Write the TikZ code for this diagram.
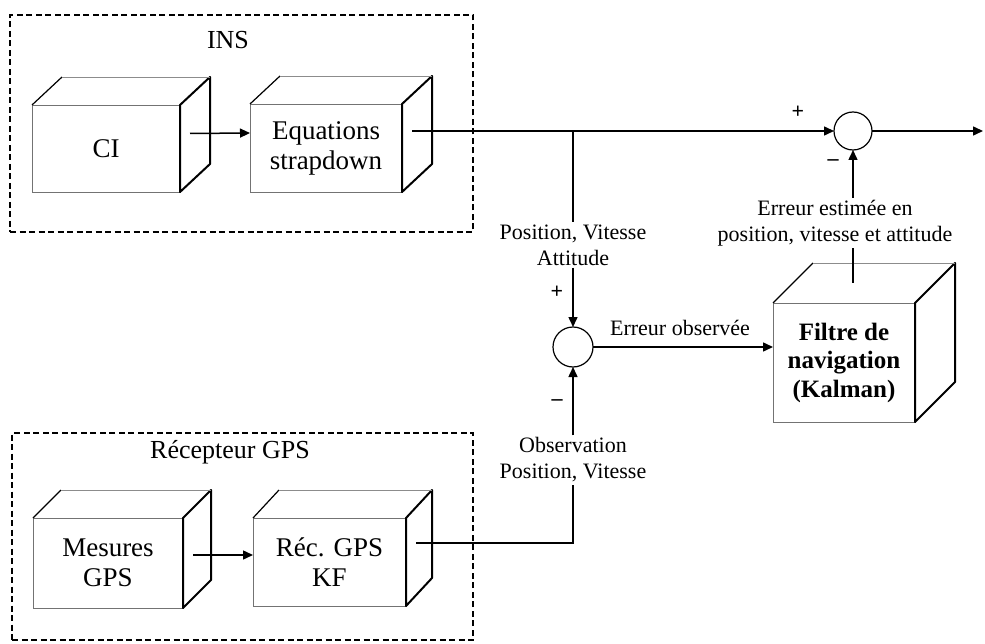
\documentclass[tikz,border=0pt]{standalone}
\usepackage{fontspec}
\setmainfont{Liberation Serif}
\usetikzlibrary{arrows.meta,calc}
\newcommand\cubeshape[3]{%
  \draw[cubethick] (#1.north east) -- ++(#2,#3) -- ($(#1.south east)+(#2,#3)$) -- (#1.south east) -- cycle;
  \draw[cubediag] (#1.north west) -- ++(#2,#3);
  \draw[cubethin] ($(#1.north west)+(#2,#3)$) -- ($(#1.north east)+(#2,#3)$);
}
\begin{document}
\begin{tikzpicture}[x=1pt,y=-1pt,
  grp/.style={draw, dashed, dash pattern=on 6pt off 3.5pt, line width=1.4pt, outer sep=0pt, inner sep=0pt},
  title/.style={font=\fontsize{26}{30}\selectfont},
  front/.style={draw=black!55, line width=0.8pt, outer sep=0pt, inner sep=0pt, align=center, font=\fontsize{27}{30}\selectfont},
  cubethick/.style={line width=2pt, line join=round},
  cubediag/.style={line width=1.2pt},
  cubethin/.style={draw=black!45, line width=0.8pt},
  sumnode/.style={circle, draw, line width=1.2pt, inner sep=0pt, outer sep=0pt},
  lbl/.style={align=center, font=\fontsize{22}{26}\selectfont, inner sep=2pt},
  sgn/.style={font=\fontsize{22}{24}\selectfont\bfseries, inner sep=0pt},
  line/.style={line width=1.5pt},
  arr/.style={line width=1.5pt, -{Triangle[length=10pt,width=9pt]}}
]
\useasboundingbox (0,0) rectangle (985,644);

% groups
\node[grp, minimum width=463, minimum height=217] (ins) at (241.5,123.5) {};
\node[title] (inst) at (228,40) {INS};
\node[grp, minimum width=461, minimum height=207] (gps) at (242.5,536.5) {};
\node[title] (gpst) at (230,452) {Récepteur GPS};

% cubes
\node[front, minimum width=148, minimum height=87] (ci) at (106,148.5) {CI};
\cubeshape{ci}{30}{-28}
\node[front, minimum width=152, minimum height=88] (eq) at (326,148) {Equations\\strapdown};
\cubeshape{eq}{30}{-28}
\node[front, minimum width=150, minimum height=90] (mes) at (108,563) {Mesures\\GPS};
\cubeshape{mes}{28}{-28}
\node[front, minimum width=153, minimum height=88] (rec) at (329.5,562) {Réc. GPS\\KF};
\cubeshape{rec}{26}{-28}
\node[front, minimum width=142, minimum height=119, font=\fontsize{25}{28.5}\selectfont\bfseries] (kal) at (844,362.5) {Filtre de\\navigation\\(Kalman)};
\cubeshape{kal}{40}{-40}

% summing junctions
\node[sumnode, minimum size=38] (s1) at (853,131) {};
\node[sumnode, minimum size=40] (s2) at (573,347) {};

% labels
\node[lbl] (pva) at (573,245) {Position, Vitesse\\Attitude};
\node[lbl] (est) at (835,223) {Erreur estimée en\\position, vitesse et attitude};
\node[lbl] (obs) at (573,460) {Observation\\Position, Vitesse};
\node[lbl] (eo) at (680,328) {Erreur observée};
\node[sgn] (p1) at (798,112) {+};
\node[sgn] (m1) at (833,163) {–};
\node[sgn] (p2) at (557,292) {+};
\node[sgn] (m2) at (557,403) {–};

% free points
\coordinate (br) at (573,131);
\coordinate (out) at (983,131);
\coordinate (kt) at (853,283);
\coordinate (rb) at (573,543);

% connectors
\draw[arr] ($(ci.east)+(10,-15)$) -- ($(eq.west)+(0,-15)$);
\draw[arr] ($(eq.east)+(10,-17)$) -- (s1.west);
\draw[line] (br) -- (pva.north);
\draw[arr] (pva.south) -- (s2.north);
\draw[arr] (obs.north) -- (s2.south);
\draw[line] ($(rec.east)+(10,-19)$) -- (rb) -- (obs.south);
\draw[arr] ($(mes.east)+(10,-8)$) -- ($(rec.west)+(0,-7)$);
\draw[arr] (s2.east) -- (s2 -| kal.west);
\draw[line] (kt) -- (kt |- est.south);
\draw[arr] (s1 |- est.north) -- (s1.south);
\draw[arr] (s1.east) -- (out);
\end{tikzpicture}
\end{document}
